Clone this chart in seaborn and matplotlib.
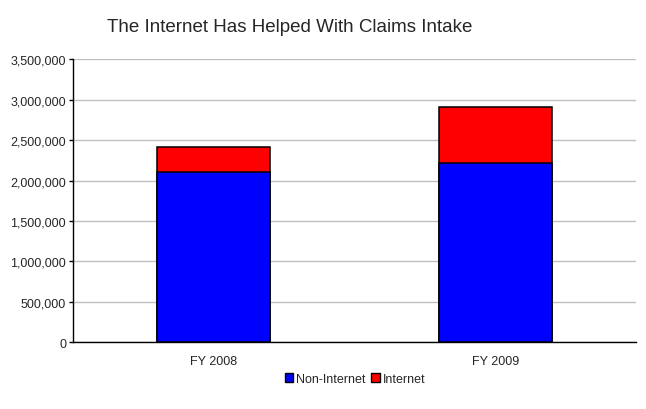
import pandas as pd
import matplotlib.pyplot as plt
import seaborn as sns
from matplotlib.patches import Patch
from matplotlib.ticker import FuncFormatter

# Data
years = ['FY 2008', 'FY 2009']
non_internet = [2102000, 2214000]
internet = [310000, 692000]

df = pd.DataFrame({'year': years, 'non_internet': non_internet, 'internet': internet})
df['total'] = df['non_internet'] + df['internet']

sns.set_style("white")
plt.rcParams['font.family'] = ['Liberation Sans', 'DejaVu Sans']

fig = plt.figure(figsize=(6.46, 4.10), dpi=100)
ax = fig.add_axes([73 / 646, 1 - 343.3 / 410, (636 - 73) / 646, (343.3 - 60.3) / 410])

# stacked bars: draw total in red, then non-internet in blue on top
sns.barplot(data=df, x='year', y='total', color='#ff0000', edgecolor='black',
            linewidth=1.1, width=0.4, saturation=1, ax=ax, zorder=3)
sns.barplot(data=df, x='year', y='non_internet', color='#0000ff', edgecolor='black',
            linewidth=1.1, width=0.4, saturation=1, ax=ax, zorder=3)

ax.set_ylim(0, 3500000)
ax.set_yticks(range(0, 3500001, 500000))
ax.yaxis.set_major_formatter(FuncFormatter(lambda v, p: f'{int(v):,}'))
ax.grid(axis='y', color='#c0c0c0', linewidth=1, zorder=0)
ax.set_axisbelow(True)
ax.set_xlabel('')
ax.set_ylabel('')

for s in ['top', 'right']:
    ax.spines[s].set_visible(False)
for s in ['left', 'bottom']:
    ax.spines[s].set_color('black')
    ax.spines[s].set_linewidth(1)

ax.tick_params(axis='y', left=True, length=3, width=1, color='black', labelsize=9, pad=2)
ax.tick_params(axis='x', bottom=False, labelsize=9, pad=6)

fig.text(107 / 646, 1 - 28 / 410, 'The Internet Has Helped With Claims Intake',
         fontsize=13.5, va='center', ha='left')

handles = [Patch(facecolor='#0000ff', edgecolor='black', label='Non-Internet'),
           Patch(facecolor='#ff0000', edgecolor='black', label='Internet')]
fig.legend(handles=handles, loc='center', bbox_to_anchor=(355 / 646, 1 - 380 / 410),
           ncol=2, frameon=False, fontsize=9, handlelength=0.7, handleheight=0.7,
           handletextpad=0.25, columnspacing=0.4)

plt.savefig('out.png', dpi=100)
